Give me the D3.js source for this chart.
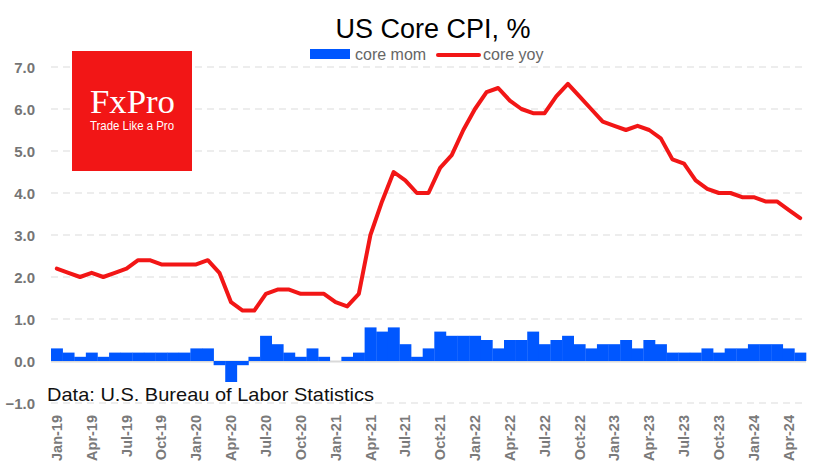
<!DOCTYPE html>
<html>
<head>
<meta charset="utf-8">
<script src="https://cdn.jsdelivr.net/npm/d3@7"></script>
<style>
  html, body { margin: 0; padding: 0; background: #fff; }
  svg { display: block; }
</style>
</head>
<body>
<svg id="chart" width="835" height="470"></svg>
<script>
const months = [
  "Jan-19","Feb-19","Mar-19","Apr-19","May-19","Jun-19","Jul-19","Aug-19","Sep-19","Oct-19","Nov-19","Dec-19",
  "Jan-20","Feb-20","Mar-20","Apr-20","May-20","Jun-20","Jul-20","Aug-20","Sep-20","Oct-20","Nov-20","Dec-20",
  "Jan-21","Feb-21","Mar-21","Apr-21","May-21","Jun-21","Jul-21","Aug-21","Sep-21","Oct-21","Nov-21","Dec-21",
  "Jan-22","Feb-22","Mar-22","Apr-22","May-22","Jun-22","Jul-22","Aug-22","Sep-22","Oct-22","Nov-22","Dec-22",
  "Jan-23","Feb-23","Mar-23","Apr-23","May-23","Jun-23","Jul-23","Aug-23","Sep-23","Oct-23","Nov-23","Dec-23",
  "Jan-24","Feb-24","Mar-24","Apr-24","May-24"
];
const coreMom = [
  0.3,0.2,0.1,0.2,0.1,0.2,0.2,0.2,0.2,0.2,0.2,0.2,
  0.3,0.3,-0.1,-0.5,-0.1,0.1,0.6,0.4,0.2,0.1,0.3,0.1,
  0.0,0.1,0.2,0.8,0.7,0.8,0.4,0.1,0.3,0.7,0.6,0.6,
  0.6,0.5,0.3,0.5,0.5,0.7,0.4,0.5,0.6,0.4,0.3,0.4,
  0.4,0.5,0.3,0.5,0.4,0.2,0.2,0.2,0.3,0.2,0.3,0.3,
  0.4,0.4,0.4,0.3,0.2
];
const coreYoy = [
  2.2,2.1,2.0,2.1,2.0,2.1,2.2,2.4,2.4,2.3,2.3,2.3,
  2.3,2.4,2.1,1.4,1.2,1.2,1.6,1.7,1.7,1.6,1.6,1.6,
  1.4,1.3,1.6,3.0,3.8,4.5,4.3,4.0,4.0,4.6,4.9,5.5,
  6.0,6.4,6.5,6.2,6.0,5.9,5.9,6.3,6.6,6.3,6.0,5.7,
  5.6,5.5,5.6,5.5,5.3,4.8,4.7,4.3,4.1,4.0,4.0,3.9,
  3.9,3.8,3.8,3.6,3.4
];
const yTicks = [-1,0,1,2,3,4,5,6,7];
const xTickLabels = months.filter((d, i) => i % 3 === 0);

const title = "US Core CPI, %";
const seriesNames = ["core mom", "core yoy"];
const sourceNote = "Data: U.S. Bureau of Labor Statistics";

const svg = d3.select("#chart");
const blue = "#0057ff", red = "#f21616";

const x = d3.scaleBand().domain(months).range([51, 806]).padding(0);
const y = d3.scaleLinear().domain([-1, 7]).range([403, 67]);

// gridlines
svg.append("g").selectAll("line").data(yTicks.filter(d => d !== 0)).join("line")
  .attr("x1", 51).attr("x2", 802)
  .attr("y1", d => y(d)).attr("y2", d => y(d))
  .attr("stroke", "#e8e8e8").attr("stroke-width", 1.5).attr("stroke-dasharray", "7,5");

// y axis labels
const yAxis = d3.axisLeft(y).tickValues(yTicks).tickFormat(d3.format(".1f")).tickSize(0).tickPadding(0);
const gy = svg.append("g").attr("transform", "translate(35,0)").call(yAxis);
gy.select(".domain").remove();
gy.selectAll("text").attr("font-family", "Liberation Sans, Arial, sans-serif")
  .attr("font-size", 15).attr("font-weight", "bold").attr("fill", "#757575").attr("dy", "0.35em");

// zero line
svg.append("line").attr("x1", 51).attr("x2", 806).attr("y1", y(0) + 0.5).attr("y2", y(0) + 0.5)
  .attr("stroke", "#d9d9d9").attr("stroke-width", 2);

// bars
svg.append("g").selectAll("rect").data(months).join("rect")
  .attr("x", d => x(d))
  .attr("width", x.bandwidth() + 0.3)
  .attr("y", (d, i) => Math.min(y(coreMom[i]), y(0)))
  .attr("height", (d, i) => Math.abs(y(coreMom[i]) - y(0)))
  .attr("fill", blue);

// line
const line = d3.line().x((d, i) => x(months[i]) + x.bandwidth() / 2).y(d => y(d));
svg.append("path").datum(coreYoy).attr("d", line)
  .attr("fill", "none").attr("stroke", red).attr("stroke-width", 4)
  .attr("stroke-linejoin", "round").attr("stroke-linecap", "round");

// x axis labels
const xAxis = d3.axisBottom(x).tickValues(xTickLabels).tickSize(0).tickPadding(0);
const gx = svg.append("g").attr("transform", "translate(0,415)").call(xAxis);
gx.select(".domain").remove();
gx.selectAll("text")
  .attr("font-family", "Liberation Sans, Arial, sans-serif").attr("font-size", 14.5)
  .attr("font-weight", "bold").attr("fill", "#7a7a7a")
  .attr("transform", "rotate(-90)").attr("text-anchor", "end")
  .attr("x", 0).attr("y", 0).attr("dy", "0.35em");

// source note
svg.append("text").attr("x", 47).attr("y", 401).text(sourceNote)
  .attr("font-family", "Liberation Sans, Arial, sans-serif").attr("font-size", 19)
  .attr("fill", "#111").attr("textLength", 327).attr("lengthAdjust", "spacingAndGlyphs");

// title
svg.append("text").attr("x", 433).attr("y", 38).attr("text-anchor", "middle").text(title)
  .attr("font-family", "Liberation Sans, Arial, sans-serif").attr("font-size", 27).attr("fill", "#000");

// legend
const lg = svg.append("g");
lg.append("rect").attr("x", 310).attr("y", 49).attr("width", 40).attr("height", 10).attr("fill", blue);
lg.append("text").attr("x", 355).attr("y", 60).text(seriesNames[0])
  .attr("font-family", "Liberation Sans, Arial, sans-serif").attr("font-size", 16).attr("fill", "#666");
lg.append("line").attr("x1", 438).attr("x2", 479).attr("y1", 55).attr("y2", 55)
  .attr("stroke", red).attr("stroke-width", 4).attr("stroke-linecap", "round");
lg.append("text").attr("x", 483).attr("y", 60).text(seriesNames[1])
  .attr("font-family", "Liberation Sans, Arial, sans-serif").attr("font-size", 16).attr("fill", "#666");

// logo
const logo = svg.append("g");
logo.append("rect").attr("x", 72).attr("y", 51).attr("width", 120).attr("height", 120).attr("fill", "#f21616");
logo.append("text").attr("x", 90).attr("y", 113).text("FxPro")
  .attr("font-family", "Liberation Serif, Times New Roman, serif").attr("font-size", 33)
  .attr("fill", "#fff").attr("textLength", 85).attr("lengthAdjust", "spacingAndGlyphs");
logo.append("text").attr("x", 90).attr("y", 130).text("Trade Like a Pro")
  .attr("font-family", "Liberation Sans, Arial, sans-serif").attr("font-size", 12.5)
  .attr("fill", "#fff").attr("textLength", 84).attr("lengthAdjust", "spacingAndGlyphs");
</script>
</body>
</html>
